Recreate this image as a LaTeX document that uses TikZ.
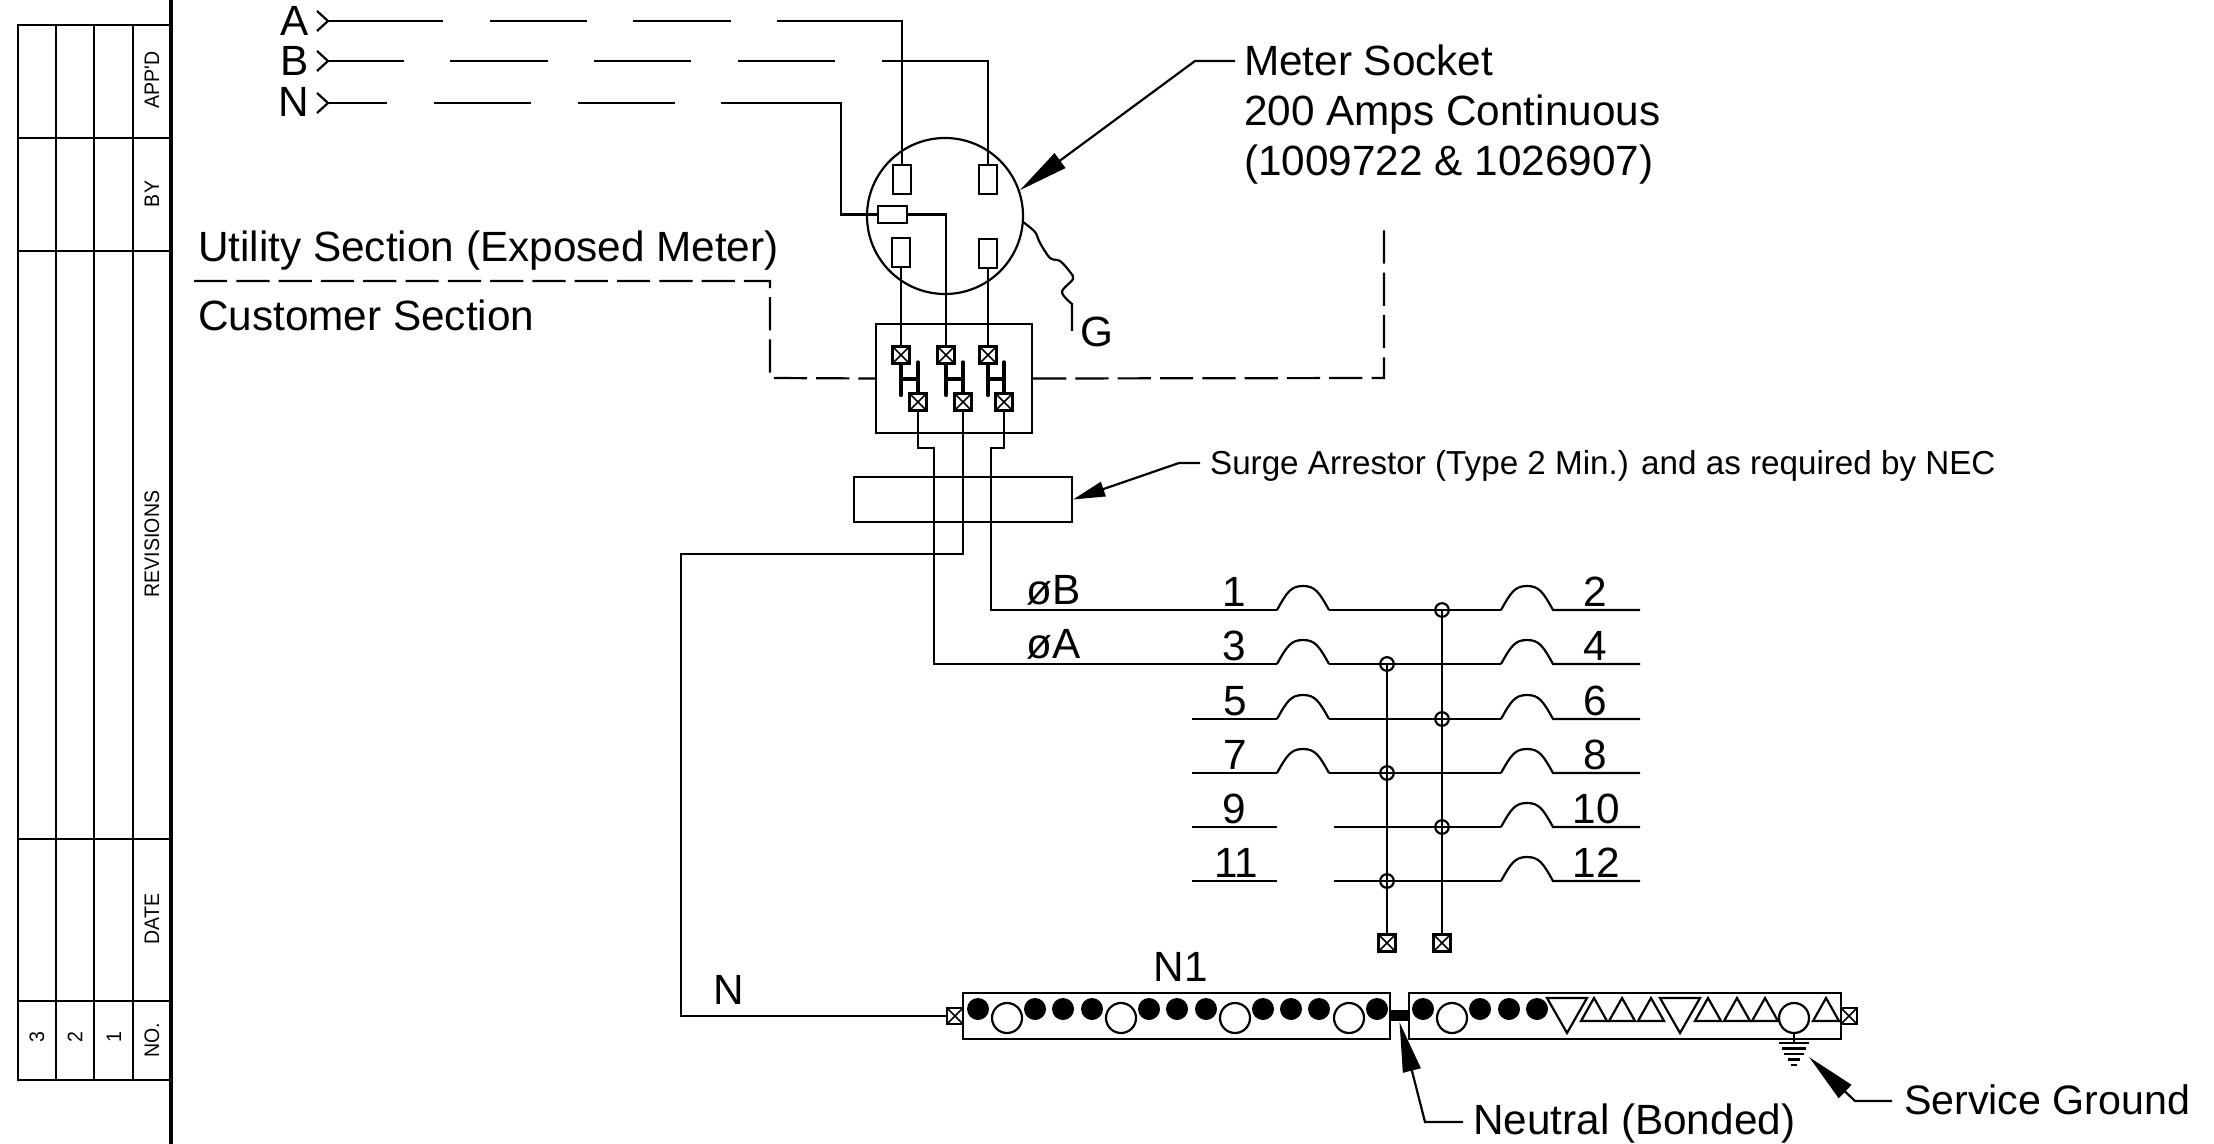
\documentclass[tikz,border=0pt]{standalone}
\usepackage{fontspec}
\usetikzlibrary{arrows.meta}
\setmainfont{Liberation Sans}
\newfontfamily\tablefont[FakeStretch=0.93]{Liberation Sans}
\newcommand\bigtxt{\fontsize{21.15}{25}\selectfont}
\newcommand\midtxt{\fontsize{16.6}{19}\selectfont}
\newcommand\tabtxt{\tablefont\fontsize{10.5}{12}\selectfont}
\tikzset{
  txt/.style={anchor=base west,inner sep=0pt,font=\bigtxt},
  txtc/.style={anchor=base,inner sep=0pt,font=\bigtxt},
  txte/.style={anchor=base east,inner sep=0pt,font=\bigtxt},
  tabl/.style={rotate=90,inner sep=0pt,font=\tabtxt},
  xterm/.style={draw,line width=1.2pt,fill=white,minimum size=8.6pt,inner sep=0pt,
    path picture={\draw[line width=.85pt] (path picture bounding box.north west)--(path picture bounding box.south east)
      (path picture bounding box.north east)--(path picture bounding box.south west);}},
  blade/.style={draw,line width=1.1pt,inner sep=0pt,minimum width=8.8pt,minimum height=14.5pt},
  junc/.style={draw,circle,line width=1.1pt,inner sep=0pt,minimum size=6.8pt},
  lug/.style={circle,fill=black,inner sep=0pt,minimum size=11pt},
  opn/.style={draw,circle,line width=1.1pt,inner sep=0pt,minimum size=15pt},
  secline/.style={line width=1.1pt,dash pattern=on 16.6pt off 4.55pt},
  lead/.style={line width=1.1pt,-{Triangle[length=25pt,width=9pt]}},
  leadb/.style={line width=1.1pt,-{Triangle[length=16pt,width=7.5pt]}},
  barbox/.style={draw,line width=1.3pt,inner sep=0pt},
}
\begin{document}
\begin{tikzpicture}[x=0.5pt,y=-0.5pt,line width=1.1pt]
\useasboundingbox (0,0) rectangle (2214,1144);

% revision block
\draw (18,25) rectangle (171,1080);
\foreach \xx in {56,94,133} \draw (\xx,25) -- (\xx,1080);
\foreach \yy in {138,251,839,1001} \draw (18,\yy) -- (171,\yy);
\draw[line width=2.4pt] (171,0) -- (171,1144);
\node[tabl] (tApp) at (152,80) {APP'D};
\node[tabl] (tBy) at (152,194) {BY};
\node[tabl] (tRev) at (152,544) {REVISIONS};
\node[tabl] (tDate) at (152,919) {DATE};
\node[tabl] (tNo) at (152,1040) {NO.};
\node[tabl] (t3) at (37,1037) {3};
\node[tabl] (t2) at (75,1037) {2};
\node[tabl] (t1) at (114,1037) {1};

% incoming labels
\node[txte] (lA) at (310,36) {A};
\node[txte] (lB) at (310,76) {B};
\node[txte] (lN) at (310,117) {N};
\coordinate (chA) at (328,21);
\coordinate (chB) at (328,61);
\coordinate (chN) at (328,103);
\foreach \c in {chA,chB,chN} \draw (\c)+(-11,-10) -- (\c) -- +(-11,10);

% meter socket
\node[draw,circle,inner sep=0pt,minimum size=78pt] (meter) at (945,216) {};
\node[blade] (bTL) at (902,179.5) {};
\node[blade] (bTR) at (988,179.5) {};
\node[blade] (bBL) at (901,252.5) {};
\node[blade] (bBR) at (988,253.5) {};
\node[draw,inner sep=0pt,minimum width=14.5pt,minimum height=8.5pt] (bN) at (892.5,214.5) {};
\coordinate (kN) at (841,103);

\draw[dash pattern=on 57.5pt off 23.5pt on 48.5pt off 23pt on 49pt off 23pt on 400pt off 1pt] (chA) -| (bTL.north);
\draw[dash pattern=on 38pt off 23pt on 49pt off 23pt on 48.5pt off 23.5pt on 48.5pt off 23.5pt on 400pt off 1pt] (chB) -| (bTR.north);
\draw[dash pattern=on 29.5pt off 23.5pt on 48.5pt off 23.5pt on 48.5pt off 23pt on 400pt off 1pt] (chN) -- (kN) |- (bN.west);

% disconnect box
\node[draw,inner sep=0pt,minimum width=78pt,minimum height=54.5pt] (disc) at (954,378.5) {};
\node[xterm] (ut1) at (901,355) {};
\node[xterm] (ut2) at (946,355) {};
\node[xterm] (ut3) at (988,355) {};
\node[xterm] (lt1) at (918,402) {};
\node[xterm] (lt2) at (963,402) {};
\node[xterm] (lt3) at (1004,402) {};
\draw (bBL.south) -- (ut1.north);
\draw (bN.east) -| (ut2.north);
\draw (bBR.south) -- (ut3.north);
\foreach \i in {1,2,3}{
  \draw[line width=2.4pt,line cap=round] (ut\i.south) -- ++(0,30);
  \draw[line width=1.9pt,line cap=round] (lt\i.north) -- ++(0,-30);
  \draw[line width=1.9pt] ([yshift=-7pt]ut\i.south) -- ([yshift=-7pt]ut\i.south -| lt\i.north);
}

% ground pigtail
\draw plot[smooth,tension=0.55] coordinates {(1023,222) (1035,232) (1040,243) (1050,258) (1060,261) (1070,272) (1073,279) (1062,292) (1072,304)} -- (1072,331);
\node[txt] (lG) at (1079,347) {G};

% section line
\coordinate (s1) at (194,281);
\coordinate (s2) at (770,281);
\coordinate (s3) at (770,378);
\coordinate (s4) at (1384,378);
\coordinate (s5) at (1384,230);
\draw[secline] (s1) -- (s2) -- (s3) -- (disc.west);
\draw[secline] (disc.east) -- (s4) -- (s5);
\node[txt] (lU) at (197,262) {Utility Section (Exposed Meter)};
\node[txt] (lC) at (197,330) {Customer Section};

% meter label
\node[txt] (m1) at (1243,76) {Meter Socket};
\node[txt] (m2) at (1243,126) {200 Amps Continuous};
\node[txt] (m3) at (1243,176) {(1009722 \& 1026907)};
\coordinate (mEnd) at (1235,61);
\coordinate (mElb) at (1195,61);
\draw[lead] (mEnd) -- (mElb) -- (meter.19);

% surge arrestor
\node[draw,inner sep=0pt,minimum width=109pt,minimum height=22.5pt] (surge) at (963,499.5) {};
\coordinate (suEnd) at (1200,463);
\coordinate (suElb) at (1179,463);
\draw[leadb] (suEnd) -- (suElb) -- (surge.east);
\node[anchor=base west,inner sep=0pt,font=\midtxt] (lS) at (1209,474) {Surge Arrestor (Type 2 Min.) and as required by NEC};

% panel rows
\foreach \r/\y in {1/610,3/664,5/719,7/773,9/827,11/881}{
  \coordinate (bl\r) at (1277,\y);
  \coordinate (br\r) at (1329,\y);
  \coordinate (st\r) at (1192,\y);
  \coordinate (sm\r) at (1334,\y);
}
\foreach \r/\y in {2/610,4/664,6/719,8/773,10/827,12/881}{
  \coordinate (cl\r) at (1501,\y);
  \coordinate (cr\r) at (1553,\y);
  \coordinate (en\r) at (1640,\y);
  \draw (cl\r) .. controls +(10,-18) and +(-12,0) .. ++(26,-24) .. controls +(12,0) and +(-10,-18) .. ++(26,24) -- (en\r);
}
\foreach \r in {1,3,5,7}{
  \draw (bl\r) .. controls +(10,-18) and +(-12,0) .. ++(26,-24) .. controls +(12,0) and +(-10,-18) .. ++(26,24);
}
\foreach \r/\n in {1/2,3/4,5/6,7/8} \draw (br\r) -- (cl\n);
\foreach \r/\n in {9/10,11/12}{
  \draw (st\r) -- (bl\r);
  \draw (sm\r) -- (cl\n);
}
\foreach \r in {5,7} \draw (st\r) -- (bl\r);

% feeders
\coordinate (kA) at (934,448);
\coordinate (kB) at (991,448);
\coordinate (kM) at (681,554);
\draw (lt1.south) |- (kA) |- (bl3);
\draw (lt3.south) |- (kB) |- (bl1);
\node[txtc] (phB) at (1054,604) {øB};
\node[txtc] (phA) at (1054,658) {øA};

% numbers
\foreach \t/\xx/\y in {1/1234/610,3/1234/664,5/1235/719,7/1235/773,9/1234/827,11/1236/881,2/1595/610,4/1595/664,6/1595/719,8/1595/773,10/1596/827,12/1596/881}{
  \node[txtc] (num\t) at (\xx,\y-3.5) {\t};
}

% tie bars
\node[junc] (j1) at (1442,610) {};
\node[junc] (j3) at (1387,664) {};
\node[junc] (j5) at (1442,719) {};
\node[junc] (j7) at (1387,773) {};
\node[junc] (j9) at (1442,827) {};
\node[junc] (j11) at (1387,881) {};
\node[xterm] (ta) at (1387,943) {};
\node[xterm] (tb) at (1442,943) {};
\draw (j3.center) -- (ta.north);
\draw (j1.center) -- (tb.north);

% neutral bars
\node[barbox,minimum width=213.5pt,minimum height=23pt] (bus1) at (1176.5,1016) {};
\node[barbox,minimum width=216pt,minimum height=23pt] (bus2) at (1625,1016) {};
\node[xterm,minimum size=8pt] (bt1) at (955,1016) {};
\node[xterm,minimum size=8pt] (bt2) at (1849,1016) {};
\node[fill=black,inner sep=0pt,minimum width=9.5pt,minimum height=5.5pt] (bond) at (1399.5,1015.5) {};
\draw (lt2.south) |- (kM) |- (bt1.west);
\node[txtc] (lNn) at (729,1004) {N};
\node[txtc] (lN1) at (1181,981) {N1};
\foreach \xx in {978,1035,1063,1092,1149,1177,1206,1263,1291,1319,1377,1423,1480,1509,1537}
  \node[lug] at (\xx,1009) {};
\foreach \xx in {1007,1121,1235,1349,1452}
  \node[opn] at (\xx,1018) {};
\node[opn] (og) at (1794,1018) {};
\foreach \xx in {1594,1622,1651,1708,1737,1765,1826}
  \draw (\xx-13,1021) -- (\xx,998) -- (\xx+13,1021) -- cycle;
\foreach \xx in {1567,1680}
  \draw (\xx-20,998) -- (\xx+20,998) -- (\xx,1033) -- cycle;

% ground symbol
\coordinate (g0) at (1794,1043);
\draw (og.south) -- (g0);
\foreach \dy/\hw in {0/15,5.5/12,11/10,16.5/6,22/3}
  \draw (g0)+(-\hw,\dy) -- +(\hw,\dy);

% callouts
\coordinate (nEnd) at (1463,1122);
\coordinate (nElb) at (1425,1122);
\draw[lead] (nEnd) -- (nElb) -- (bond.south);
\node[txt] (lNb) at (1472,1134) {Neutral (Bonded)};
\coordinate (gEnd) at (1892,1101);
\coordinate (gElb) at (1855,1101);
\coordinate (gTip) at (1809,1057);
\draw[lead] (gEnd) -- (gElb) -- (gTip);
\node[txt,font=\fontsize{20.6}{25}\selectfont] (lSg) at (1903,1114) {Service Ground};
\end{tikzpicture}
\end{document}
